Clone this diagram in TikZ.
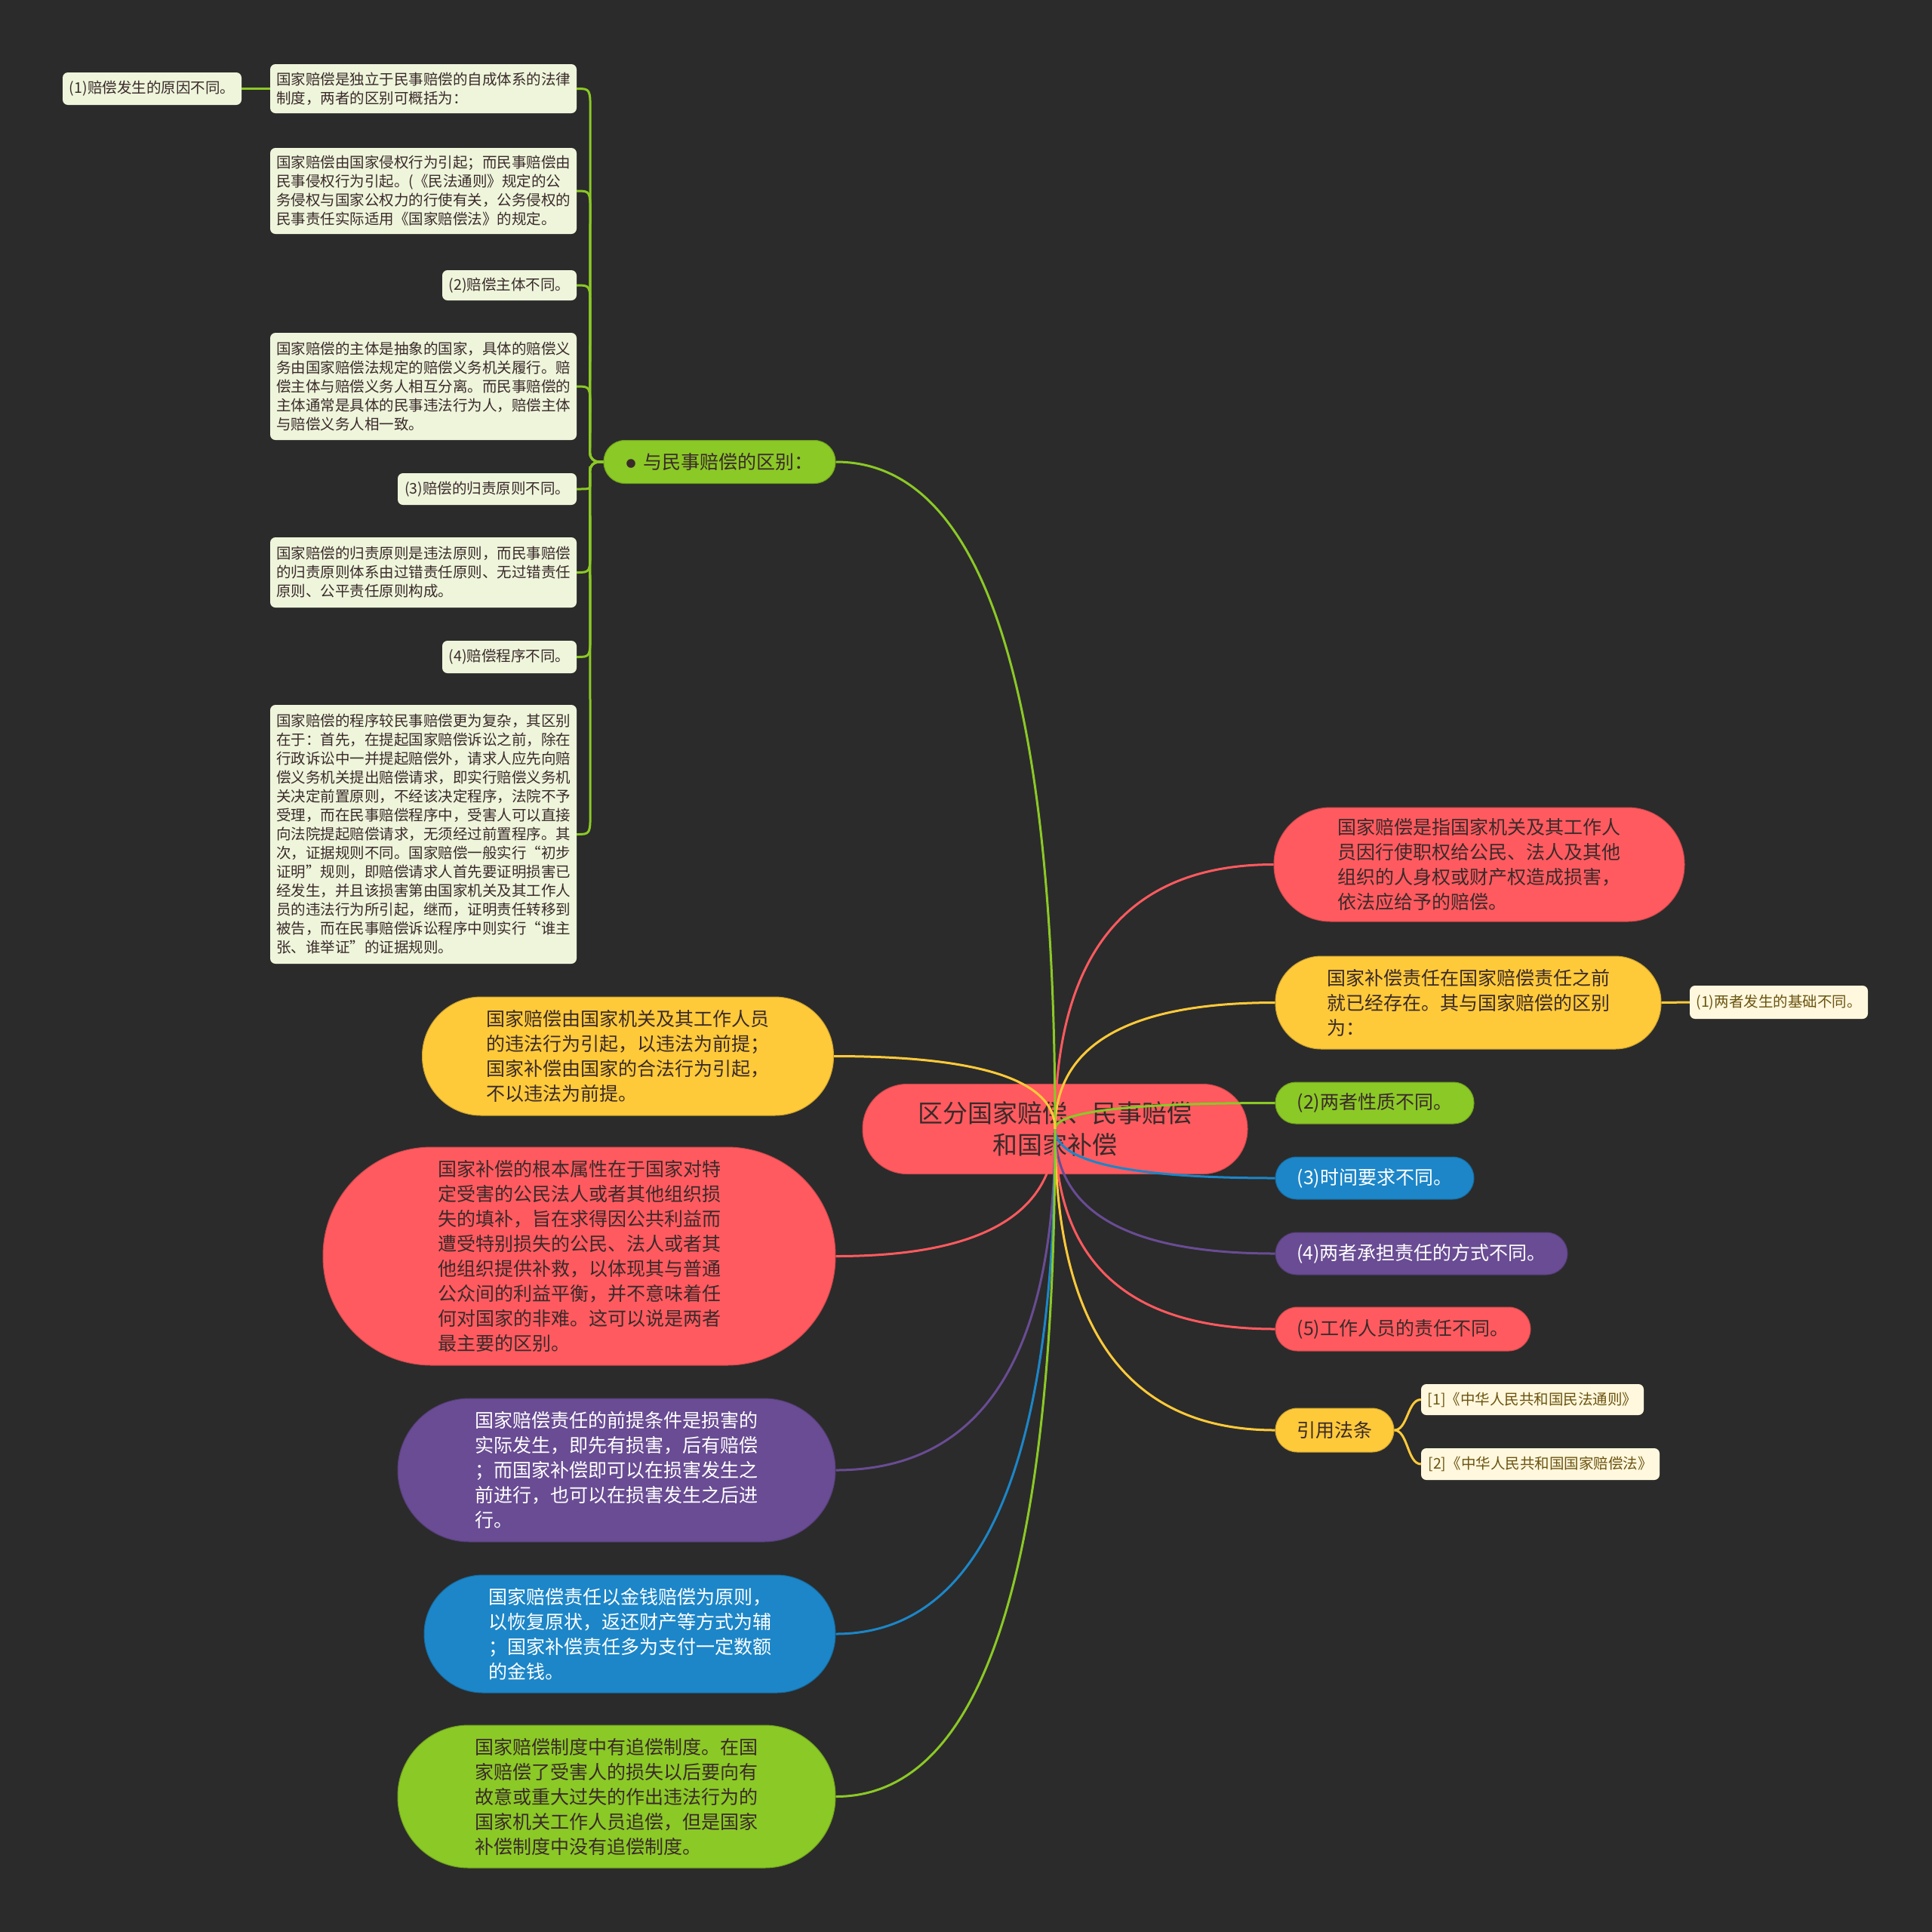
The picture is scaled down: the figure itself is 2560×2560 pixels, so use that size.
\documentclass[tikz,border=0pt]{standalone}
\usepackage{fontspec}
\setmainfont{Noto Sans CJK SC}
\usetikzlibrary{calc}

\definecolor{bgc}{HTML}{2B2B2B}
\definecolor{mapred}{HTML}{FF5A5F}
\definecolor{mapyellow}{HTML}{FFCA3A}
\definecolor{mapgreen}{HTML}{8BC926}
\definecolor{mapblue}{HTML}{1C86C8}
\definecolor{mappurple}{HTML}{694C93}
\definecolor{leafgreen}{HTML}{EEF5DB}
\definecolor{leafcream}{HTML}{FFF8DE}
\definecolor{darktext}{HTML}{3A2A2A}
\definecolor{citetext}{HTML}{6B5410}

\begin{document}
\begin{tikzpicture}[x=1pt,y=-1pt,
    pill/.style={rounded corners=#1, inner sep=0pt, align=left, text=darktext, line width=1pt},
    big/.style={font=\fontsize{25}{33}\selectfont},
    small/.style={font=\fontsize{19.5}{25}\selectfont},
    leaf/.style={small, fill=leafgreen, rounded corners=7pt, inner sep=0pt, align=left, text=darktext},
    cite/.style={small, fill=leafcream, rounded corners=7pt, inner sep=0pt, text=citetext},
    link/.style={draw=#1, line width=3pt}]

  % background
  \fill[bgc] (0,0) rectangle (2560,2560);

  % root
  \node[pill=59pt, fill=mapred, draw=mapred!80!black, align=center,
        font=\fontsize{33}{42}\selectfont, minimum width=510pt, minimum height=119pt]
    (root) at (1398,1496) {区分国家赔偿、民事赔偿\\和国家补偿};

  % right branches
  \node[pill=75pt, big, fill=mapred, draw=mapred!80!black, minimum width=544pt, minimum height=151pt]
    (r1) at (1960,1145.5) {国家赔偿是指国家机关及其工作人\\员因行使职权给公民、法人及其他\\组织的人身权或财产权造成损害，\\依法应给予的赔偿。};
  \node[pill=61pt, big, fill=mapyellow, draw=mapyellow!80!black, minimum width=511pt, minimum height=123pt]
    (r2) at (1945.5,1328.5) {国家补偿责任在国家赔偿责任之前\\就已经存在。其与国家赔偿的区别\\为：};
  \node[cite, minimum width=236pt, minimum height=44pt] (r2a) at (2357,1328) {(1)两者发生的基础不同。};
  \node[pill=27pt, big, fill=mapgreen, draw=mapgreen!80!black, minimum width=263pt, minimum height=55pt]
    (r3) at (1821.5,1461.5) {(2)两者性质不同。};
  \node[pill=28pt, big, fill=mapblue, draw=mapblue!80!black, text=white, minimum width=263pt, minimum height=56pt]
    (r4) at (1821.5,1561) {(3)时间要求不同。};
  \node[pill=28pt, big, fill=mappurple, draw=mappurple!80!black, text=white, minimum width=387pt, minimum height=56pt]
    (r5) at (1883.5,1661) {(4)两者承担责任的方式不同。};
  \node[pill=29pt, big, fill=mapred, draw=mapred!80!black, minimum width=338pt, minimum height=58pt]
    (r6) at (1859,1761) {(5)工作人员的责任不同。};
  \node[pill=29pt, big, fill=mapyellow, draw=mapyellow!80!black, minimum width=157pt, minimum height=58pt]
    (r7) at (1768.5,1895) {引用法条};
  \node[cite, minimum width=295pt, minimum height=41pt] (ref1) at (2030.5,1854.5) {[1]《中华人民共和国民法通则》};
  \node[cite, minimum width=316pt, minimum height=42pt] (ref2) at (2041,1940) {[2]《中华人民共和国国家赔偿法》};

  % left branches
  \node[pill=28pt, big, fill=mapgreen, draw=mapgreen!80!black, minimum width=307pt, minimum height=57pt]
    (diff) at (953.5,612) {\raisebox{2pt}{\fontsize{13}{13}\selectfont ●}\, 与民事赔偿的区别：};
  \node[pill=78pt, big, fill=mapyellow, draw=mapyellow!80!black, minimum width=545pt, minimum height=157pt]
    (L1) at (832,1399.5) {国家赔偿由国家机关及其工作人员\\的违法行为引起，以违法为前提；\\国家补偿由国家的合法行为引起，\\不以违法为前提。};
  \node[pill=144pt, big, fill=mapred, draw=mapred!80!black, minimum width=679pt, minimum height=289pt]
    (L2) at (767.5,1664.5) {国家补偿的根本属性在于国家对特\\定受害的公民法人或者其他组织损\\失的填补，旨在求得因公共利益而\\遭受特别损失的公民、法人或者其\\他组织提供补救，以体现其与普通\\公众间的利益平衡，并不意味着任\\何对国家的非难。这可以说是两者\\最主要的区别。};
  \node[pill=95pt, big, fill=mappurple, draw=mappurple!80!black, text=white, minimum width=580pt, minimum height=190pt]
    (L3) at (817,1948) {国家赔偿责任的前提条件是损害的\\实际发生，即先有损害，后有赔偿\\；而国家补偿即可以在损害发生之\\前进行，也可以在损害发生之后进\\行。};
  \node[pill=78pt, big, fill=mapblue, draw=mapblue!80!black, text=white, minimum width=545pt, minimum height=156pt]
    (L4) at (834.5,2165) {国家赔偿责任以金钱赔偿为原则，\\以恢复原状，返还财产等方式为辅\\；国家补偿责任多为支付一定数额\\的金钱。};
  \node[pill=94pt, big, fill=mapgreen, draw=mapgreen!80!black, minimum width=580pt, minimum height=189pt]
    (L5) at (817,2380.5) {国家赔偿制度中有追偿制度。在国\\家赔偿了受害人的损失以后要向有\\故意或重大过失的作出违法行为的\\国家机关工作人员追偿，但是国家\\补偿制度中没有追偿制度。};

  % leaves of "与民事赔偿的区别"
  \node[leaf, minimum width=406pt, minimum height=65pt] (c1) at (561,117.5)
    {国家赔偿是独立于民事赔偿的自成体系的法律\\制度，两者的区别可概括为：};
  \node[leaf, minimum width=237pt, minimum height=43pt] (gc) at (201.5,117.5) {(1)赔偿发生的原因不同。};
  \node[leaf, minimum width=406pt, minimum height=114pt] (c2) at (561,253)
    {国家赔偿由国家侵权行为引起；而民事赔偿由\\民事侵权行为引起。(《民法通则》规定的公\\务侵权与国家公权力的行使有关，公务侵权的\\民事责任实际适用《国家赔偿法》的规定。};
  \node[leaf, minimum width=178pt, minimum height=40pt] (c3) at (675,378) {(2)赔偿主体不同。};
  \node[leaf, minimum width=406pt, minimum height=142pt] (c4) at (561,512)
    {国家赔偿的主体是抽象的国家，具体的赔偿义\\务由国家赔偿法规定的赔偿义务机关履行。赔\\偿主体与赔偿义务人相互分离。而民事赔偿的\\主体通常是具体的民事违法行为人，赔偿主体\\与赔偿义务人相一致。};
  \node[leaf, minimum width=237pt, minimum height=42pt] (c5) at (645.5,648) {(3)赔偿的归责原则不同。};
  \node[leaf, minimum width=406pt, minimum height=93pt] (c6) at (561,758.5)
    {国家赔偿的归责原则是违法原则，而民事赔偿\\的归责原则体系由过错责任原则、无过错责任\\原则、公平责任原则构成。};
  \node[leaf, minimum width=178pt, minimum height=43pt] (c7) at (675,870.5) {(4)赔偿程序不同。};
  \node[leaf, minimum width=406pt, minimum height=343pt] (c8) at (561,1105.5)
    {国家赔偿的程序较民事赔偿更为复杂，其区别\\在于：首先，在提起国家赔偿诉讼之前，除在\\行政诉讼中一并提起赔偿外，请求人应先向赔\\偿义务机关提出赔偿请求，即实行赔偿义务机\\关决定前置原则，不经该决定程序，法院不予\\受理，而在民事赔偿程序中，受害人可以直接\\向法院提起赔偿请求，无须经过前置程序。其\\次，证据规则不同。国家赔偿一般实行“初步\\证明”规则，即赔偿请求人首先要证明损害已\\经发生，并且该损害第由国家机关及其工作人\\员的违法行为所引起，继而，证明责任转移到\\被告，而在民事赔偿诉讼程序中则实行“谁主\\张、谁举证”的证据规则。};

  % connectors from root
  \foreach \dst/\col in {r1/mapred, r2/mapyellow, r3/mapgreen, r4/mapblue, r5/mappurple, r6/mapred, r7/mapyellow}
    \draw[link=\col] (root.center) .. controls ($(root.center)!2/3!(root.center |- \dst.west)$)
      and ($(\dst.west)!2/3!(root.center |- \dst.west)$) .. (\dst.west);
  \foreach \dst/\col in {diff/mapgreen, L1/mapyellow, L2/mapred, L3/mappurple, L4/mapblue, L5/mapgreen}
    \draw[link=\col] (root.center) .. controls ($(root.center)!2/3!(root.center |- \dst.east)$)
      and ($(\dst.east)!2/3!(root.center |- \dst.east)$) .. (\dst.east);

  % sub-branches: trunk left of "与民事赔偿的区别"
  \foreach \leafname/\dy in {c1/45, c2/45, c3/45, c4/45, c5/-18, c6/-45, c7/-45, c8/-45}
    \draw[link=mapgreen, rounded corners=12pt] (diff.west) -- ++(-18,0)
      -- ($(\leafname.east)+(18,\dy)$) .. controls ($(\leafname.east)+(18,0)$) .. (\leafname.east);
  \draw[link=mapgreen] (c1.west) -- (gc.east);
  \draw[link=mapyellow] (r2.east) -- (r2a.west);
  \draw[link=mapyellow] (r7.east) .. controls +(18,0) and +(-18,0) .. (ref1.west);
  \draw[link=mapyellow] (r7.east) .. controls +(18,0) and +(-18,0) .. (ref2.west);
\end{tikzpicture}
\end{document}
